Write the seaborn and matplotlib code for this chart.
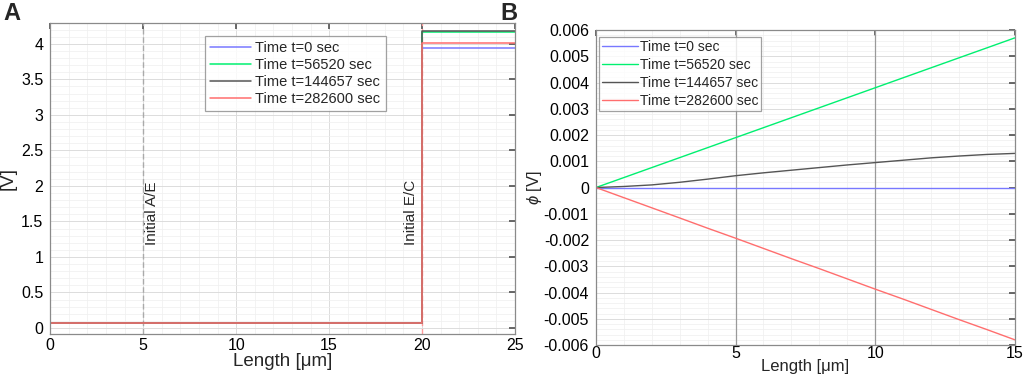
import pandas as pd
import matplotlib
matplotlib.use("Agg")
import matplotlib.pyplot as plt
from matplotlib.ticker import MultipleLocator
import seaborn as sns
import numpy as np

# series labels and colours
labels = ['Time t=0 sec', 'Time t=56520 sec', 'Time t=144657 sec', 'Time t=282600 sec']
colors = ['#7878ff', '#00f070', '#555555', '#ff6e6e']

# panel A: potential along the cell (step at the E/C interface)
len_a = [0, 20, 20, 25]
v_t0 = [0.065, 0.065, 3.94, 3.94]
v_t1 = [0.065, 0.065, 4.16, 4.16]
v_t2 = [0.068, 0.068, 4.18, 4.18]
v_t3 = [0.065, 0.065, 4.01, 4.01]

# panel B: electrolyte potential phi
len_b = [0, 1, 2, 3, 4, 5, 6, 7, 8, 9, 10, 11, 12, 13, 14, 15]
phi_t0 = [0.0] * 16
phi_t1 = [0.0, 0.00038, 0.00076, 0.00114, 0.00152, 0.0019, 0.00228, 0.00266,
          0.00304, 0.00342, 0.0038, 0.00418, 0.00456, 0.00494, 0.00532, 0.0057]
phi_t2 = [0.0, 0.00004, 0.0001, 0.0002, 0.00032, 0.00045, 0.00056, 0.00066,
          0.00076, 0.00086, 0.00095, 0.00104, 0.00113, 0.0012, 0.00126, 0.0013]
phi_t3 = [0.0, -0.000387, -0.000773, -0.00116, -0.00155, -0.00193, -0.00232, -0.00271,
          -0.00309, -0.00348, -0.00387, -0.00425, -0.00464, -0.00503, -0.00541, -0.0058]

sns.set_theme(style="white")
plt.rcParams['font.family'] = ['Liberation Sans', 'DejaVu Sans']
plt.rcParams['mathtext.fontset'] = 'custom'
plt.rcParams['mathtext.it'] = 'Liberation Sans:italic'

df_a = pd.concat([pd.DataFrame({'x': len_a, 'y': v, 'series': lab})
                  for v, lab in zip([v_t0, v_t1, v_t2, v_t3], labels)])
df_b = pd.concat([pd.DataFrame({'x': len_b, 'y': v, 'series': lab})
                  for v, lab in zip([phi_t0, phi_t1, phi_t2, phi_t3], labels)])

fig = plt.figure(figsize=(10.24, 3.8), dpi=100)
ax1 = fig.add_axes([0.049, 0.121, 0.454, 0.818])
ax2 = fig.add_axes([0.582, 0.092, 0.409, 0.829])


def matlab_style(ax):
    ax.minorticks_on()
    ax.grid(True, which='major', color='#dcdcdc', linewidth=0.7)
    ax.grid(True, which='minor', color='#efefef', linewidth=0.5)
    ax.set_axisbelow(True)
    ax.tick_params(which='both', direction='in', top=True, right=True,
                   colors='#555555', labelcolor='black', labelsize=11.5, pad=5)
    ax.tick_params(axis='x', pad=3)
    ax.tick_params(which='minor', length=0)
    ax.tick_params(which='major', length=4)
    for s in ax.spines.values():
        s.set_color('#8a8a8a')
        s.set_linewidth(0.9)


# ---- panel A ----
matlab_style(ax1)
ax1.axvline(5, color='#aaaaaa', linestyle=(0, (4, 2)), linewidth=1)
ax1.axvline(20, color='#ff9a9a', linestyle=(0, (4, 2)), linewidth=1)
sns.lineplot(data=df_a, x='x', y='y', hue='series', palette=colors, sort=False,
             estimator=None, linewidth=1.1, ax=ax1)
ax1.set_xlim(0, 25)
ax1.set_ylim(-0.085, 4.29)
ax1.xaxis.set_major_locator(MultipleLocator(5))
ax1.xaxis.set_minor_locator(MultipleLocator(1))
ax1.yaxis.set_minor_locator(MultipleLocator(0.1))
ax1.set_yticks([0, 0.5, 1, 1.5, 2, 2.5, 3, 3.5, 4])
ax1.set_yticklabels(['0', '0.5', '1', '1.5', '2', '2.5', '3', '3.5', '4'])
ax1.set_xlabel('Length [\u03bcm]', fontsize=13.5, labelpad=0)
ax1.set_ylabel('[V]', fontsize=13.5, labelpad=3)
ax1.text(5.5, 1.17, 'Initial A/E', rotation=90, ha='center', va='bottom', fontsize=11)
ax1.text(19.4, 1.17, 'Initial E/C', rotation=90, ha='center', va='bottom', fontsize=11)
leg1 = ax1.legend(loc='upper left', bbox_to_anchor=(0.333, 0.958), borderaxespad=0,
                  fontsize=10.5, frameon=True, fancybox=False, edgecolor='#8a8a8a',
                  handlelength=2.8, handletextpad=0.3, borderpad=0.35, labelspacing=0.2)
leg1.get_frame().set_linewidth(0.9)

# ---- panel B ----
matlab_style(ax2)
ax2.tick_params(axis='x', pad=1)
ax2.axvline(5, color='#9a9a9a', linewidth=0.9)
ax2.axvline(10, color='#9a9a9a', linewidth=0.9)
sns.lineplot(data=df_b, x='x', y='y', hue='series', palette=colors,
             estimator=None, linewidth=1.0, ax=ax2)
ax2.set_xlim(0, 15)
ax2.set_ylim(-0.006, 0.006)
ax2.xaxis.set_major_locator(MultipleLocator(5))
ax2.xaxis.set_minor_locator(MultipleLocator(1))
ax2.yaxis.set_minor_locator(MultipleLocator(0.0002))
yt = np.round(np.arange(-0.006, 0.0061, 0.001), 3)
ax2.set_yticks(yt)
ax2.set_yticklabels(['0' if v == 0 else f'{v:.3f}' for v in yt])
ax2.set_xlabel('Length [\u03bcm]', fontsize=12, labelpad=-2)
ax2.set_ylabel(r'$\phi$ [V]', fontsize=12, labelpad=0)
leg2 = ax2.legend(loc='upper left', bbox_to_anchor=(0.008, 0.978), borderaxespad=0,
                  fontsize=10, frameon=True, fancybox=False, edgecolor='#8a8a8a',
                  handlelength=2.6, handletextpad=0.1, borderpad=0.2, labelspacing=0.3)
leg2.get_frame().set_linewidth(0.9)

fig.text(0.003, 0.995, 'A', fontsize=17, fontweight='bold', va='top', ha='left')
fig.text(0.489, 0.995, 'B', fontsize=17, fontweight='bold', va='top', ha='left')

fig.savefig('out.png', dpi=100)
